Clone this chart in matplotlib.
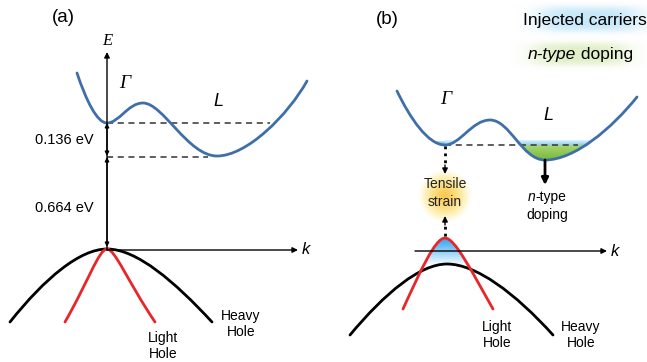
import numpy as np
import matplotlib.pyplot as plt
from matplotlib.path import Path
from matplotlib.patches import PathPatch

# schematic coordinates in picture pixels (x right, y down)
# conduction bands: start point, then (ctrl1, ctrl2, end) per cubic segment
cb_a = [(77, 73), (86, 100), (97, 123), (107, 123), (119, 123), (128, 103), (143, 103),
        (163, 103), (188, 156), (217, 156), (247, 156), (288, 115), (307, 81)]
cb_b = [(397, 91), (410, 118), (428, 145), (445, 145), (460, 145), (472, 120), (490, 120),
        (510, 120), (522, 160), (545, 160), (575, 160), (612, 128), (637, 97)]
hh_a = [(10, 322), (45, 278), (80, 249), (107, 249), (137, 249), (175, 282), (212, 322)]
lh_a = [(65, 322), (88, 282), (99, 249), (107, 249), (115, 249), (128, 282), (155, 322)]
hh_b = [(350, 335), (385, 293), (420, 264), (447, 264), (476, 264), (515, 293), (553, 335)]
lh_b = [(403, 309), (420, 272), (435, 238), (445, 238), (455, 238), (472, 272), (493, 309)]

gap_levels = [123, 157, 248]          # Gamma min, L min, valence top (panel a)
gap_labels = ['0.136 eV', '0.664 eV']
level_b = 145

blue = '#3f6fa8'
red = '#e8262a'

plt.rcParams['font.family'] = ['Liberation Sans', 'DejaVu Sans']
fig = plt.figure(figsize=(6.47, 3.62), dpi=100)
ax = fig.add_axes([0, 0, 1, 1])
ax.set_xlim(0, 647)
ax.set_ylim(362, 0)
ax.axis('off')
renderer = fig.canvas.get_renderer()


def curve(pts):
    codes = [Path.MOVETO] + [Path.CURVE4] * (len(pts) - 1)
    return Path(np.array(pts, float), codes)


def draw(pts, color, lw=2.0):
    ax.add_patch(PathPatch(curve(pts), fc='none', ec=color, lw=lw, capstyle='round', zorder=5))


def poly(pts):
    return curve(pts).to_polygons(closed_only=False)[0]


def pool(pts, y0, y1, cols, above=True, x0=None, x1=None):
    # gradient fill inside a band between y0 and y1, clipped by the curve
    v = poly(pts)
    edge = -10 if above else 400
    clip = np.vstack([v, [[v[-1, 0], edge], [v[0, 0], edge]]])
    cp = PathPatch(Path(clip), fc='none', ec='none')
    ax.add_patch(cp)
    t = np.linspace(0, 1, 64)[:, None, None]
    img = np.array(cols[0]) * (1 - t) + np.array(cols[1]) * t
    img = np.repeat(img, 2, axis=1)
    xa = v[0, 0] if x0 is None else x0
    xb = v[-1, 0] if x1 is None else x1
    im = ax.imshow(img, extent=(xa, xb, y1, y0), aspect='auto',
                   interpolation='bilinear', zorder=2)
    im.set_clip_path(cp)


def glow(cx, cy, w, h, col, zorder=1):
    nx, ny = 160, 60
    xx = np.linspace(-1, 1, nx)[None, :]
    yy = np.linspace(-1, 1, ny)[:, None]
    a = np.exp(-(xx / 0.7) ** 4) * np.exp(-(yy / 0.65) ** 4)
    img = np.zeros((ny, nx, 4))
    img[..., :3] = col
    img[..., 3] = a
    ax.imshow(img, extent=(cx - w / 2, cx + w / 2, cy + h / 2, cy - h / 2),
              aspect='auto', interpolation='bilinear', zorder=zorder)


def arrow(x0, y0, x1, y1, style='-|>', lw=1.0, ms=8):
    ax.annotate('', xy=(x1, y1), xytext=(x0, y0),
                arrowprops=dict(arrowstyle=style, color='black', lw=lw,
                                mutation_scale=ms, shrinkA=0, shrinkB=0), zorder=6)


def mixed(cx, cy, it, rest, fs):
    # italic part followed by upright part, centred as a whole on cx
    a = ax.text(0, cy, it, fontsize=fs, style='italic', ha='left', va='center', zorder=3)
    b = ax.text(0, cy, rest, fontsize=fs, ha='left', va='center', zorder=3)
    k = 647 / fig.bbox.width
    wa = a.get_window_extent(renderer).width * k
    wb = b.get_window_extent(renderer).width * k
    a.set_x(cx - (wa + wb) / 2)
    b.set_x(cx - (wa + wb) / 2 + wa)


# ---------------- panel (a) ----------------
ax.text(63, 17, '(a)', fontsize=13.5, ha='center', va='center')
arrow(107, 250, 107, 52)
ax.text(107, 41, 'E', fontsize=12, style='italic', family='Liberation Serif', ha='center', va='center')
arrow(107, 250, 298, 250)
ax.text(306, 250, 'k', fontsize=12, style='italic', ha='center', va='center')

draw(cb_a, blue)
ax.plot([107, 270], [gap_levels[0]] * 2, ls=(0, (4, 3)), color='#333333', lw=1.1, zorder=4)
ax.plot([107, 208], [gap_levels[1]] * 2, ls=(0, (4, 3)), color='#333333', lw=1.1, zorder=4)
for i in range(2):
    arrow(107, gap_levels[i], 107, gap_levels[i + 1] - 1, style='<|-|>', ms=6)
ax.text(35, 140, gap_labels[0], fontsize=10.5, ha='left', va='center')
ax.text(35, 208, gap_labels[1], fontsize=10.5, ha='left', va='center')

draw(hh_a, 'black')
draw(lh_a, red)
ax.text(125, 83, 'Γ', fontsize=14, style='italic', family='Liberation Serif', ha='center', va='center')
ax.text(218, 102, 'L', fontsize=13, style='italic', ha='center', va='center')
ax.text(241, 324, 'Heavy\nHole', fontsize=10, ha='center', va='center', linespacing=1.25)
ax.text(163, 346, 'Light\nHole', fontsize=10, ha='center', va='center', linespacing=1.2)

# ---------------- panel (b) ----------------
ax.text(387, 20, '(b)', fontsize=13.5, ha='center', va='center')
glow(590, 19, 150, 40, (0.78, 0.91, 0.98))
glow(580, 54, 140, 36, (0.88, 0.94, 0.78))
ax.text(585, 21, 'Injected carriers', fontsize=12.5, ha='center', va='center', zorder=3)
mixed(580, 55, 'n-type', ' doping', 12.5)

# carrier pools
pool(cb_b[:4], level_b - 4, level_b + 1, [(0.75, 0.90, 0.98, 1), (0.20, 0.62, 0.92, 1)])
pool(cb_b[3:10], level_b - 5, level_b, [(0.88, 0.95, 0.99, 1), (0.55, 0.80, 0.96, 1)])
pool(cb_b[6:], level_b - 5, level_b, [(0.88, 0.95, 0.99, 1), (0.55, 0.80, 0.96, 1)])
pool(cb_b[6:], level_b, 161, [(0.66, 0.84, 0.45, 1), (0.45, 0.72, 0.20, 1)])
pool(lh_b, 237, 264, [(0.16, 0.62, 0.93, 1), (0.94, 0.98, 1.0, 1)], above=False, x0=425, x1=465)

draw(cb_b, blue)
ax.plot([445, 578], [level_b] * 2, ls=(0, (4, 3)), color='#333333', lw=1.1, zorder=4)
ax.text(446, 100, 'Γ', fontsize=14, style='italic', family='Liberation Serif', ha='center', va='center')
ax.text(548, 115, 'L', fontsize=13, style='italic', ha='center', va='center')

# tensile strain glow
n = 100
xx, yy = np.meshgrid(np.linspace(-1, 1, n), np.linspace(-1, 1, n))
rc = np.clip(np.sqrt(xx ** 2 + yy ** 2), 0, 1)
img = np.zeros((n, n, 4))
img[..., 0] = 0.99
img[..., 1] = 0.76 + 0.20 * rc
img[..., 2] = 0.22 + 0.45 * rc
img[..., 3] = np.clip(1 - rc ** 3, 0, 1) * 0.9
ax.imshow(img, extent=(418, 472, 223, 169), interpolation='bilinear', zorder=1)
ax.text(445, 193, 'Tensile\nstrain', fontsize=10, ha='center', va='center', linespacing=1.3,
        color='#222222', zorder=6)

ax.plot([445, 445], [146, 166], ls=(0, (1, 1.5)), color='black', lw=2, zorder=6)
arrow(445, 165, 445, 174, ms=8)
ax.plot([445, 445], [236, 224], ls=(0, (1, 1.5)), color='black', lw=2, zorder=6)
arrow(445, 225, 445, 216, ms=8)
arrow(545, 160, 545, 185, lw=2, ms=10)
mixed(547, 197, 'n', '-type', 10)
ax.text(547, 215, 'doping', fontsize=10, ha='center', va='center')

arrow(415, 251, 607, 251)
ax.text(615, 251, 'k', fontsize=12, style='italic', ha='center', va='center')
draw(hh_b, 'black')
draw(lh_b, red)
ax.text(497, 335, 'Light\nHole', fontsize=10, ha='center', va='center', linespacing=1.25)
ax.text(581, 335, 'Heavy\nHole', fontsize=10, ha='center', va='center', linespacing=1.25)

fig.savefig('out.png', dpi=100)
